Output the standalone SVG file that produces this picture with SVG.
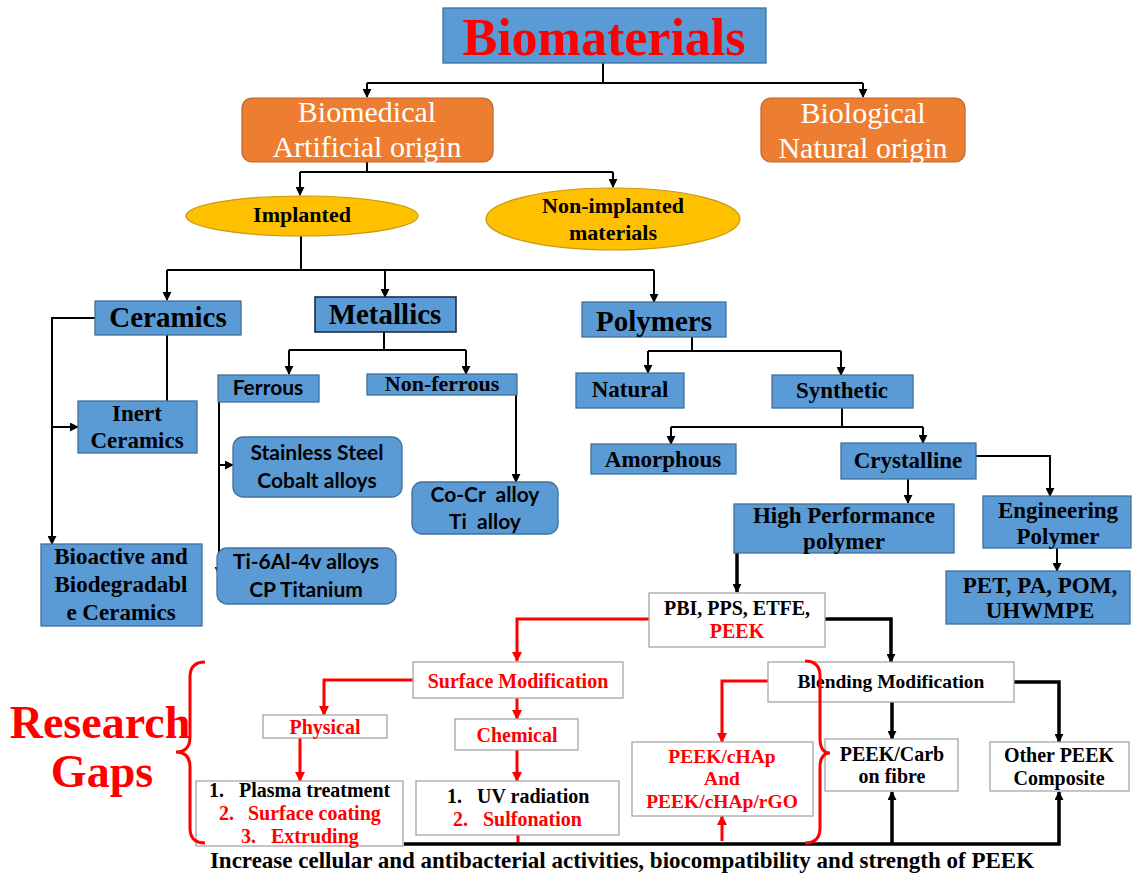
<svg xmlns="http://www.w3.org/2000/svg" width="1132" height="875" viewBox="0 0 1132 875">
<style>
.blue{fill:#5B9BD5;stroke:#41719C;stroke-width:1.3}
.orange{fill:#ED7D31;stroke:#C0602A;stroke-width:1.2}
.yellow{fill:#FFC000;stroke:#C89A10;stroke-width:1.2}
.white{fill:#FFFFFF;stroke:#A6A6A6;stroke-width:1.3}
.t{font-family:"Liberation Serif","Times New Roman",serif;font-weight:bold;fill:#000;text-anchor:middle}
.s{font-family:Lato,"Liberation Sans",sans-serif;font-weight:bold;fill:#000;text-anchor:middle}
.w{font-family:"Liberation Serif","Times New Roman",serif;fill:#FFF;text-anchor:middle;font-size:30px}
.red{fill:#FF0000}
.k{fill:none;stroke:#000;stroke-width:2}
.k3{fill:none;stroke:#000;stroke-width:3.5}
.r3{fill:none;stroke:#FF0000;stroke-width:3}
</style>
<defs>
<marker id="ak" viewBox="0 0 10 10" refX="9" refY="5" markerWidth="9" markerHeight="9" markerUnits="userSpaceOnUse" orient="auto"><path d="M0,0 L10,5 L0,10 z" fill="#000"/></marker>
<marker id="ar" viewBox="0 0 10 10" refX="9" refY="5" markerWidth="10" markerHeight="10" markerUnits="userSpaceOnUse" orient="auto"><path d="M0,0 L10,5 L0,10 z" fill="#FF0000"/></marker>
</defs>

<g id="connectors">
<path class="k" d="M603 63 V83 M367 83 H863" />
<path class="k" d="M367 83 V97" marker-end="url(#ak)"/>
<path class="k" d="M863 83 V97" marker-end="url(#ak)"/>
<path class="k" d="M367 162 V172 M300 172 H613"/>
<path class="k" d="M300 172 V195" marker-end="url(#ak)"/>
<path class="k" d="M613 172 V187" marker-end="url(#ak)"/>
<path class="k" d="M301 235 V270 M167 270 H654"/>
<path class="k" d="M167 270 V300" marker-end="url(#ak)"/>
<path class="k" d="M385 270 V297" marker-end="url(#ak)"/>
<path class="k" d="M654 270 V302" marker-end="url(#ak)"/>
<path class="k" d="M95 318 H52 V544" marker-end="url(#ak)"/>
<path class="k" d="M52 427 H78" marker-end="url(#ak)"/>
<path class="k" d="M167 335 V401"/>
<path class="k" d="M384 332 V350 M289 350 H466"/>
<path class="k" d="M289 350 V374" marker-end="url(#ak)"/>
<path class="k" d="M466 350 V374" marker-end="url(#ak)"/>
<path class="k" d="M219 387 V575" marker-end="url(#ak)"/>
<path class="k" d="M219 465 H233" marker-end="url(#ak)"/>
<path class="k" d="M516 384 V482" marker-end="url(#ak)"/>
<path class="k" d="M692 337 V351 M648 351 H841"/>
<path class="k" d="M648 351 V373" marker-end="url(#ak)"/>
<path class="k" d="M841 351 V375" marker-end="url(#ak)"/>
<path class="k" d="M842 408 V427 M671 427 H923"/>
<path class="k" d="M671 427 V444" marker-end="url(#ak)"/>
<path class="k" d="M923 427 V443" marker-end="url(#ak)"/>
<path class="k" d="M908 479 V503" marker-end="url(#ak)"/>
<path class="k" d="M976 456 H1050 V496" marker-end="url(#ak)"/>
<path class="k" d="M1057 548 V571" marker-end="url(#ak)"/>
<path class="k3" d="M737 553 V592" marker-end="url(#ak)"/>
<path class="r3" d="M649 619 H517 V661" marker-end="url(#ar)"/>
<path class="k3" d="M825 619 H891 V662" marker-end="url(#ak)"/>
<path class="r3" d="M413 680 H324 V715" marker-end="url(#ar)"/>
<path class="r3" d="M300 738 V781" marker-end="url(#ar)"/>
<path class="r3" d="M517 698 V719" marker-end="url(#ar)"/>
<path class="r3" d="M517 750 V781" marker-end="url(#ar)"/>
<path class="r3" d="M518 835 V844"/>
<path class="r3" d="M768 681 H722 V742" marker-end="url(#ar)"/>
<path class="k3" d="M892 702 V739" marker-end="url(#ak)"/>
<path class="k3" d="M1014 682 H1059 V742" marker-end="url(#ak)"/>
<path class="k3" d="M404 844 H1059 V792" marker-end="url(#ak)"/>
<path class="k3" d="M892 844 V792" marker-end="url(#ak)"/>
<path class="r3" d="M722 841 V816" marker-end="url(#ar)"/>
</g>

<g id="title"><rect x="443" y="8" width="323" height="55" class="blue"/><text x="604" y="55" class="t red" font-size="52">Biomaterials</text></g>

<g id="biomedical"><rect x="242" y="98" width="251" height="64" rx="10" class="orange"/><text x="367" y="122" class="w">Biomedical</text><text x="367" y="157" class="w">Artificial origin</text></g>
<g id="biological"><rect x="761" y="98" width="204" height="64" rx="10" class="orange"/><text x="863" y="123" class="w">Biological</text><text x="863" y="158" class="w">Natural origin</text></g>

<g id="implanted"><ellipse cx="302" cy="216" rx="116" ry="20" class="yellow"/><text x="302" y="222" class="t" font-size="22">Implanted</text></g>
<g id="nonimplanted"><ellipse cx="613" cy="219" rx="127" ry="31" class="yellow"/><text x="613" y="213" class="t" font-size="22">Non-implanted</text><text x="613" y="240" class="t" font-size="22">materials</text></g>

<g id="ceramics"><rect x="95" y="301" width="146" height="34" class="blue"/><text x="168" y="327" class="t" font-size="29">Ceramics</text></g>
<g id="metallics"><rect x="315" y="297" width="141" height="35" fill="#5B9BD5" stroke="#1E2E48" stroke-width="1.6"/><text x="385" y="324" class="t" font-size="29">Metallics</text></g>
<g id="polymers"><rect x="582" y="302" width="144" height="35" class="blue"/><text x="654" y="331" class="t" font-size="29">Polymers</text></g>

<g id="inert"><rect x="78" y="401" width="119" height="52" class="blue"/><text x="137" y="421" class="t" font-size="23">Inert</text><text x="137" y="448" class="t" font-size="23">Ceramics</text></g>
<g id="bioactive"><rect x="41" y="544" width="161" height="82" class="blue"/><text x="121" y="564" class="t" font-size="23">Bioactive and</text><text x="121" y="592" class="t" font-size="23">Biodegradabl</text><text x="121" y="620" class="t" font-size="23">e Ceramics</text></g>

<g id="ferrous"><rect x="218" y="375" width="101" height="27" class="blue"/><text x="268" y="395" class="s" font-size="21">Ferrous</text></g>
<g id="nonferrous"><rect x="367" y="374" width="150" height="21" class="blue"/><text x="442" y="391" class="t" font-size="22">Non-ferrous</text></g>
<g id="stainless"><rect x="233" y="437" width="169" height="60" rx="10" class="blue"/><text x="317" y="460" class="s" font-size="21">Stainless Steel</text><text x="317" y="488" class="s" font-size="21">Cobalt alloys</text></g>
<g id="titanium"><rect x="217" y="548" width="179" height="56" rx="10" class="blue"/><text x="306" y="569" class="s" font-size="21">Ti-6Al-4v alloys</text><text x="306" y="597" class="s" font-size="21">CP Titanium</text></g>
<g id="cocr"><rect x="412" y="482" width="146" height="52" rx="10" class="blue"/><text x="485" y="502" class="s" font-size="21" xml:space="preserve">Co-Cr  alloy</text><text x="485" y="529" class="s" font-size="21" xml:space="preserve">Ti  alloy</text></g>

<g id="natural"><rect x="576" y="373" width="108" height="35" class="blue"/><text x="630" y="397" class="t" font-size="23">Natural</text></g>
<g id="synthetic"><rect x="772" y="375" width="141" height="33" class="blue"/><text x="842" y="398" class="t" font-size="23">Synthetic</text></g>
<g id="amorphous"><rect x="591" y="444" width="145" height="30" class="blue"/><text x="663" y="467" class="t" font-size="23">Amorphous</text></g>
<g id="crystalline"><rect x="841" y="443" width="135" height="36" class="blue"/><text x="908" y="468" class="t" font-size="23">Crystalline</text></g>
<g id="highperf"><rect x="734" y="504" width="220" height="49" class="blue"/><text x="844" y="523" class="t" font-size="23">High Performance</text><text x="844" y="549" class="t" font-size="23">polymer</text></g>
<g id="engineering"><rect x="983" y="496" width="148" height="52" class="blue"/><text x="1058" y="518" class="t" font-size="23">Engineering</text><text x="1058" y="544" class="t" font-size="23">Polymer</text></g>
<g id="pet"><rect x="946" y="571" width="184" height="53" class="blue"/><text x="1040" y="593" class="t" font-size="23">PET, PA, POM,</text><text x="1040" y="618" class="t" font-size="23">UHWMPE</text></g>

<g id="pbi"><rect x="649" y="593" width="176" height="54" class="white"/><text x="737" y="615" class="t" font-size="20">PBI, PPS, ETFE,</text><text x="737" y="638" class="t red" font-size="20">PEEK</text></g>
<g id="surface"><rect x="413" y="662" width="210" height="36" class="white"/><text x="518" y="688" class="t red" font-size="20">Surface Modification</text></g>
<g id="physical"><rect x="263" y="715" width="124" height="23" class="white"/><text x="325" y="734" class="t red" font-size="20">Physical</text></g>
<g id="chemical"><rect x="455" y="719" width="123" height="31" class="white"/><text x="517" y="742" class="t red" font-size="20">Chemical</text></g>
<g id="plasma"><rect x="196" y="781" width="207" height="65" class="white"/>
<text class="t" font-size="20" text-anchor="start" style="text-anchor:start"><tspan x="209" y="797">1.</tspan><tspan x="239" y="797">Plasma treatment</tspan></text>
<text class="t red" font-size="20" style="text-anchor:start"><tspan x="219" y="820">2.</tspan><tspan x="248" y="820">Surface coating</tspan></text>
<text class="t red" font-size="20" style="text-anchor:start"><tspan x="241" y="843">3.</tspan><tspan x="271" y="843">Extruding</tspan></text></g>
<g id="uv"><rect x="416" y="781" width="203" height="54" class="white"/>
<text class="t" font-size="20" style="text-anchor:start"><tspan x="447" y="803">1.</tspan><tspan x="477" y="803">UV radiation</tspan></text>
<text class="t red" font-size="20" style="text-anchor:start"><tspan x="453" y="826">2.</tspan><tspan x="483" y="826">Sulfonation</tspan></text></g>
<g id="blending"><rect x="768" y="662" width="246" height="40" class="white"/><text x="891" y="688" class="t" font-size="19.5">Blending Modification</text></g>
<g id="peekchap"><rect x="632" y="742" width="181" height="74" class="white"/><text x="722" y="763" class="t red" font-size="19.5">PEEK/cHAp</text><text x="722" y="785" class="t red" font-size="19.5">And</text><text x="722" y="808" class="t red" font-size="19.5">PEEK/cHAp/rGO</text></g>
<g id="peekcarb"><rect x="825" y="739" width="133" height="52" class="white"/><text x="892" y="761" class="t" font-size="20">PEEK/Carb</text><text x="892" y="783" class="t" font-size="20">on fibre</text></g>
<g id="otherpeek"><rect x="990" y="742" width="139" height="49" class="white"/><text x="1059" y="762" class="t" font-size="20">Other PEEK</text><text x="1059" y="785" class="t" font-size="20">Composite</text></g>

<g id="braces">
<path class="r3" d="M205 662 Q190 662 190 677 L190 737 Q190 752 176 752 Q190 752 190 767 L190 828 Q190 843 205 843"/>
<path class="r3" d="M805 661 Q820 661 820 676 L820 738 Q820 753 830 753 Q820 753 820 768 L820 828 Q820 843 805 843"/>
</g>
<g id="research"><text x="100" y="738" class="t red" font-size="46">Research</text><text x="102" y="787" class="t red" font-size="46">Gaps</text></g>
<g id="footer"><text x="622" y="868" class="t" font-size="23">Increase cellular and antibacterial activities, biocompatibility and strength of PEEK</text></g>
</svg>
